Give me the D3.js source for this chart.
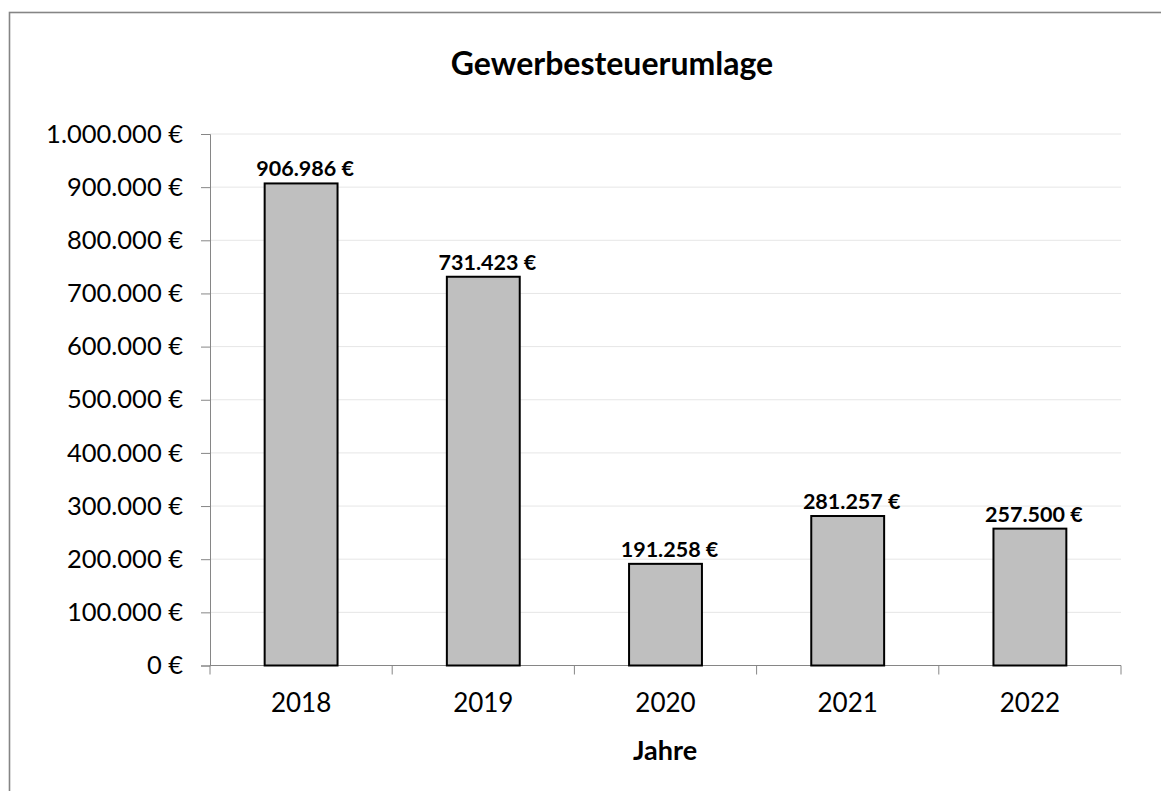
<!DOCTYPE html>
<html lang="de">
<head>
<meta charset="UTF-8">
<title>Gewerbesteuerumlage</title>
<style>
  body { margin: 0; background: #fff; }
  svg { display: block; font-family: Lato, 'Open Sans', Arial, sans-serif; }
</style>
<script src="https://d3js.org/d3.v7.min.js"></script>
</head>
<body>
<svg id="chart" width="1161" height="791"></svg>
<script>
// data
const years = ["2018", "2019", "2020", "2021", "2022"];
const amounts = [906986, 731423, 191258, 281257, 257500];
const yTicks = [0, 100000, 200000, 300000, 400000, 500000, 600000, 700000, 800000, 900000, 1000000];

const de = d3.formatLocale({ decimal: ",", thousands: ".", grouping: [3], currency: ["", " €"] });
const euro = de.format("$,.0f");

const svg = d3.select("#chart");
const margin = { left: 210, right: 1121, top: 134, bottom: 665.5 };

// outer frame (cut off on the right and bottom like the original)
svg.append("rect")
    .attr("x", 9.5).attr("y", 12.5)
    .attr("width", 1300).attr("height", 900)
    .attr("fill", "none")
    .attr("stroke", "#858585")
    .attr("stroke-width", 1.6);

const x = d3.scaleBand()
    .domain(years)
    .range([margin.left, margin.right])
    .paddingInner(0.6)
    .paddingOuter(0.3);

const y = d3.scaleLinear()
    .domain([0, 1000000])
    .range([margin.bottom, margin.top]);

// gridlines
svg.append("g")
    .selectAll("line")
    .data(yTicks.slice(1))
    .join("line")
    .attr("x1", margin.left).attr("x2", margin.right)
    .attr("y1", d => y(d)).attr("y2", d => y(d))
    .attr("stroke", "#e6e6e6")
    .attr("stroke-width", 1);

// y axis
const yAxis = svg.append("g")
    .attr("transform", `translate(${margin.left},0)`)
    .call(d3.axisLeft(y).tickValues(yTicks).tickFormat(euro).tickSize(9).tickPadding(18))
    .attr("font-family", null)
    .attr("font-size", null);
yAxis.select(".domain").attr("stroke", "#868686");
yAxis.selectAll(".tick line").attr("stroke", "#868686");
yAxis.selectAll(".tick text")
    .attr("fill", "#000")
    .style("font-size", "25.5px");

// x axis with ticks at category boundaries
const xAxis = svg.append("g")
    .attr("transform", `translate(0,${margin.bottom})`);
xAxis.append("line")
    .attr("x1", margin.left).attr("x2", margin.right)
    .attr("stroke", "#868686");
const step = x.step();
const bounds = years.map((d, i) => margin.left + i * step).concat([margin.right]);
xAxis.selectAll(".xt")
    .data(bounds)
    .join("line")
    .attr("class", "xt")
    .attr("x1", d => d).attr("x2", d => d)
    .attr("y1", 0).attr("y2", 9)
    .attr("stroke", "#868686");
xAxis.selectAll(".xl")
    .data(years)
    .join("text")
    .attr("class", "xl")
    .attr("x", d => x(d) + x.bandwidth() / 2)
    .attr("y", 46)
    .attr("text-anchor", "middle")
    .style("font-size", "26px")
    .text(d => d);

// bars
svg.append("g")
    .selectAll("rect")
    .data(years)
    .join("rect")
    .attr("x", d => x(d))
    .attr("y", (d, i) => y(amounts[i]))
    .attr("width", x.bandwidth())
    .attr("height", (d, i) => y(0) - y(amounts[i]))
    .attr("fill", "#bfbfbf")
    .attr("stroke", "#000")
    .attr("stroke-width", 2);

// value labels
svg.append("g")
    .selectAll("text")
    .data(years)
    .join("text")
    .attr("x", d => x(d) + x.bandwidth() / 2 + 4)
    .attr("y", (d, i) => y(amounts[i]) - 7)
    .attr("text-anchor", "middle")
    .style("font-size", "21.5px")
    .style("font-weight", "bold")
    .text((d, i) => euro(amounts[i]));

// titles
svg.append("text")
    .attr("x", 612).attr("y", 75)
    .attr("text-anchor", "middle")
    .style("font-size", "32px")
    .style("font-weight", "bold")
    .text("Gewerbesteuerumlage");

svg.append("text")
    .attr("x", 665).attr("y", 760)
    .attr("text-anchor", "middle")
    .style("font-size", "27px")
    .style("font-weight", "bold")
    .text("Jahre");
</script>
</body>
</html>
